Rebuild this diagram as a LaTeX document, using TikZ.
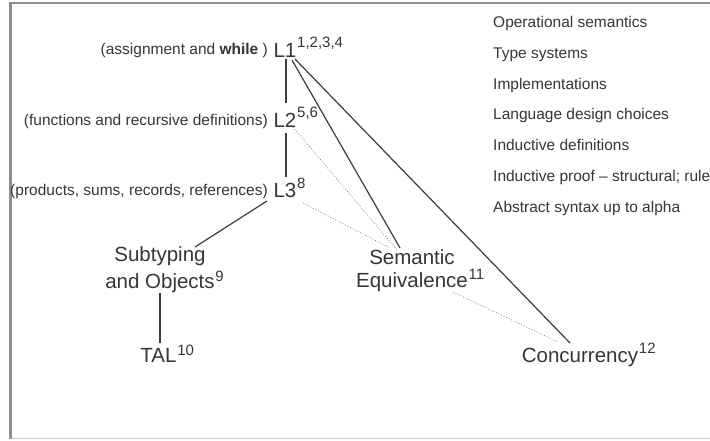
\documentclass[tikz,border=0pt]{standalone}
\usepackage{fontspec}
\setmainfont{Liberation Sans}
\usetikzlibrary{calc}
\definecolor{ink}{HTML}{363636}
\definecolor{wire}{HTML}{3C3C3C}
\definecolor{dots}{HTML}{808080}
\definecolor{framec}{HTML}{8E8E8E}
\newcommand{\smallfs}{\fontsize{15.5}{18}\selectfont}
\newcommand{\bigfs}{\fontsize{20.5}{24}\selectfont}
\newcommand{\supfs}{\fontsize{15}{15}\selectfont}
\newcommand{\supr}[2][8]{\rlap{\smash{\raisebox{#1pt}{\supfs\kern0.8pt #2}}}}
\begin{document}
\begin{tikzpicture}[x=1pt,y=-1pt,
  every node/.style={inner sep=0pt, text=ink},
  small/.style={font=\smallfs},
  big/.style={font=\bigfs},
  link/.style={draw=wire, line width=1.2pt},
  weak/.style={draw=dots, dotted, line width=0.8pt}]
\useasboundingbox (0,0) rectangle (710,440);
\fill[white] (0,0) rectangle (710,440);
% frame
\draw[framec, line width=2pt] (9,2.5) -- (712,2.5);
\draw[framec!45, line width=1pt] (10,438.5) -- (712,438.5);
\draw[framec, line width=3pt] (10,1.5) -- (10,439);

% language levels
\node[big, anchor=base] (L1) at (285,57) {L1\supr[10]{1,2,3,4}};
\node[small, anchor=base east] (c1) at (268,54.5) {(assignment and \textbf{while} )};
\node[big, anchor=base] (L2) at (285,127) {L2\supr[10]{5,6}};
\node[small, anchor=base east] (c2) at (268,125) {(functions and recursive definitions)};
\node[big, anchor=base] (L3) at (285,197) {L3\supr[9]{8}};
\node[small, anchor=base east] (c3) at (268,195) {(products, sums, records, references)};

% topics
\node[font=\fontsize{20.5}{27}\selectfont, align=center] (sub) at (160,270) {Subtyping\\and Objects\supr[7]{9}};
\node[big, anchor=base] (tal) at (158.5,362) {TAL\supr[7]{10}};
\node[font=\fontsize{20.5}{23}\selectfont, align=center] (sem) at (412,270.6) {Semantic\\Equivalence\supr[8]{11}};
\node[big, anchor=base] (conc) at (580,362) {Concurrency\supr[9]{12}};

% list on the right
\foreach \t [count=\i] in {Operational semantics, Type systems, Implementations,
  Language design choices, Inductive definitions,
  {Inductive proof -- structural; rule}, Abstract syntax up to alpha}{
  \node[small, anchor=base west] (t\i) at (493,{27.5+30.8*(\i-1)}) {\t};
}

% connectors
\draw[link] ($(L1.base)+(1,2)$) -- ($(L2.base)+(1,-24)$);
\draw[link] ($(L2.base)+(1,6)$) -- ($(L3.base)+(1,-20)$);
\draw[link] ($(L1.base)+(7,3)$) -- ($(sem.center)+(-12,-22.6)$);
\draw[link] ($(L1.base)+(10,2)$) -- ($(conc.base)+(-10,-19)$);
\draw[weak] ($(L2.base)+(8,0)$) -- ($(sem.center)+(-15,-20.6)$);
\draw[weak] ($(L3.base)+(18,6)$) -- ($(sem.center)+(-22,-22.6)$);
\draw[link] ($(L3.base)+(-18,4)$) -- ($(sub.center)+(35,-23)$);
\draw[link] ($(sub.center)+(0,23)$) -- ($(tal.base)+(1.5,-19)$);
\draw[weak] ($(sem.center)+(41,21.4)$) -- ($(conc.base)+(-22,-20)$);
\end{tikzpicture}
\end{document}
